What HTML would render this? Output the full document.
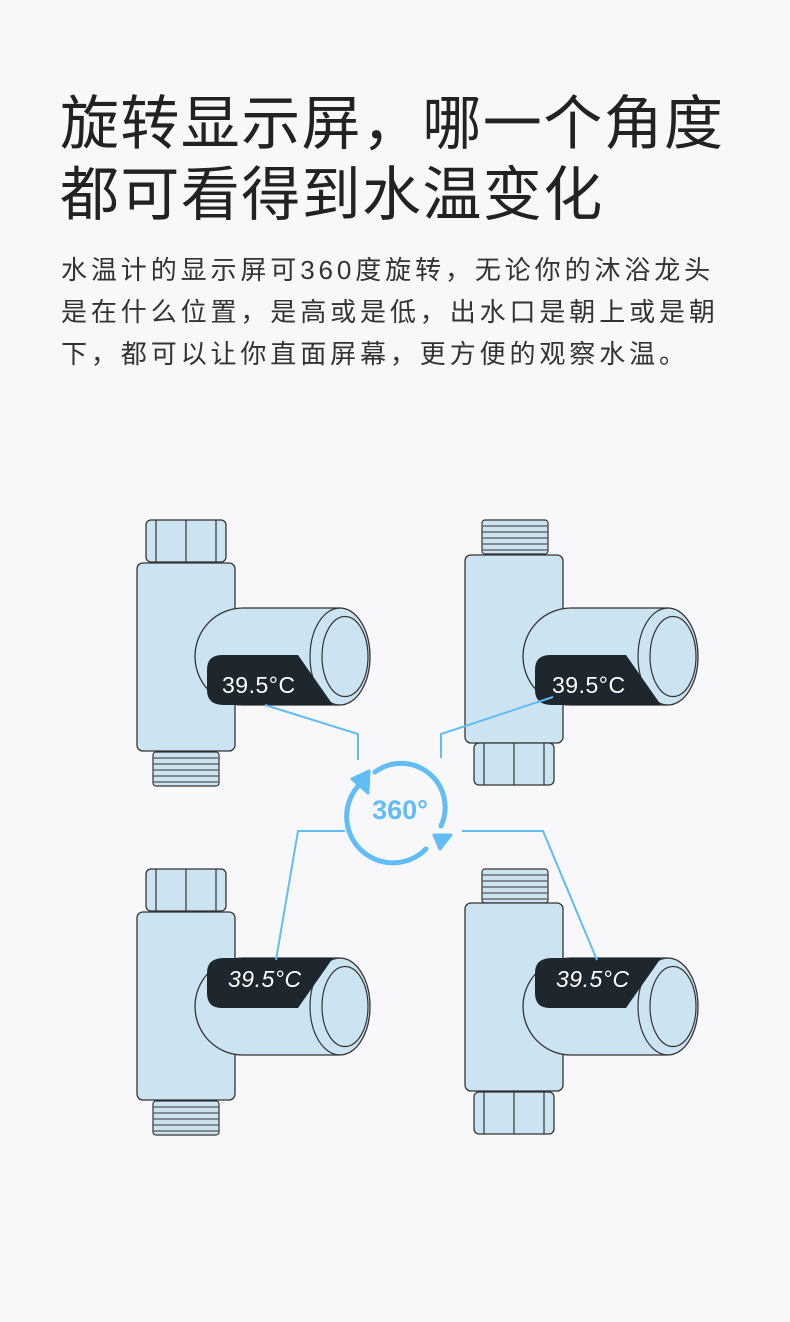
<!DOCTYPE html>
<html><head><meta charset="utf-8"><style>
html,body{margin:0;padding:0;background:#f8f8fa;}
body{width:790px;height:1322px;position:relative;overflow:hidden;font-family:"Liberation Sans","Noto Sans CJK SC",sans-serif;color:#222;}
.t{position:absolute;left:60px;font-size:59px;letter-spacing:1.4px;line-height:72px;white-space:nowrap;}
.p{position:absolute;left:61px;top:249px;font-size:26px;line-height:42px;letter-spacing:3.9px;color:#333;white-space:nowrap;}
svg{position:absolute;left:0;top:0;}
</style></head><body>
<div class="t" style="top:88px">旋转显示屏，哪一个角度</div>
<div class="t" style="top:159px">都可看得到水温变化</div>
<div class="p">水温计的显示屏可360度旋转，无论你的沐浴龙头<br>是在什么位置，是高或是低，出水口是朝上或是朝<br>下，都可以让你直面屏幕，更方便的观察水温。</div>
<svg width="790" height="1322" viewBox="0 0 790 1322">
<defs>
<g id="nut"><rect x="0" y="0" width="80" height="42" rx="5" fill="#cce3f1" stroke="#333" stroke-width="1.3"/><line x1="10" y1="0" x2="10" y2="42" stroke="#333" stroke-width="1.2"/><line x1="40" y1="0" x2="40" y2="42" stroke="#333" stroke-width="1.2"/><line x1="70" y1="0" x2="70" y2="42" stroke="#333" stroke-width="1.2"/></g>
<g id="thr"><rect x="0" y="0" width="66" height="34" rx="3" fill="#cce3f1" stroke="#333" stroke-width="1.2"/><path d="M0 6 H66 M0 12 H66 M0 18 H66 M0 24 H66 M0 30 H66" stroke="#555" stroke-width="1.2"/></g>
<g id="cyl"><path d="M48 0 H145 A30 48.5 0 0 1 145 97 H48 A48 48.5 0 0 1 48 0 Z" fill="#cce3f1" stroke="#333" stroke-width="1.3"/><path d="M145 0 A30 48.5 0 0 0 145 97" fill="none" stroke="#333" stroke-width="1.2"/><ellipse cx="150" cy="48.5" rx="23" ry="40" fill="#cce3f1" stroke="#333" stroke-width="1.2"/></g>
</defs>
<use href="#nut" x="146" y="520"/>
<rect x="137" y="563" width="98" height="188" rx="6" fill="#cce3f1" stroke="#333" stroke-width="1.3"/>
<use href="#thr" x="153" y="752"/>
<use href="#cyl" x="195" y="608"/>
<path d="M222 655 H298 L333 705 H224 Q207 705 207 690 V670 Q207 655 222 655 Z" fill="#1e272d"/>
<text x="222" y="693" font-size="23" fill="#fff" font-family="Liberation Sans" letter-spacing="0.5">39.5°C</text>
<use href="#thr" x="482" y="520"/>
<rect x="465" y="555" width="98" height="188" rx="6" fill="#cce3f1" stroke="#333" stroke-width="1.3"/>
<use href="#nut" x="474" y="743"/>
<use href="#cyl" x="523" y="608"/>
<path d="M550 655 H626 L661 705 H552 Q535 705 535 690 V670 Q535 655 550 655 Z" fill="#1e272d"/>
<text x="552" y="693" font-size="23" fill="#fff" font-family="Liberation Sans" letter-spacing="0.5">39.5°C</text>
<use href="#nut" x="146" y="869"/>
<rect x="137" y="912" width="98" height="188" rx="6" fill="#cce3f1" stroke="#333" stroke-width="1.3"/>
<use href="#thr" x="153" y="1101"/>
<use href="#cyl" x="195" y="958"/>
<path d="M224 958 H333 L298 1008 H222 Q207 1008 207 993 V973 Q207 958 224 958 Z" fill="#1e272d"/>
<text x="228" y="987" font-size="23" fill="#fff" font-style="italic" font-family="Liberation Sans" letter-spacing="0.5">39.5°C</text>
<use href="#thr" x="482" y="869"/>
<rect x="465" y="903" width="98" height="188" rx="6" fill="#cce3f1" stroke="#333" stroke-width="1.3"/>
<use href="#nut" x="474" y="1092"/>
<use href="#cyl" x="523" y="958"/>
<path d="M552 958 H661 L626 1008 H550 Q535 1008 535 993 V973 Q535 958 552 958 Z" fill="#1e272d"/>
<text x="556" y="987" font-size="23" fill="#fff" font-style="italic" font-family="Liberation Sans" letter-spacing="0.5">39.5°C</text>
<g fill="none" stroke="#62bcf6" stroke-width="2">
<polyline points="265,705 358,734 358,760"/>
<polyline points="553,697 441,734 441,758"/>
<polyline points="345,831 298,831 276,960"/>
<polyline points="462,831 543,831 597,960"/>
</g>
<g fill="none" stroke="#62bcf6" stroke-width="5" stroke-linecap="round">
<path d="M375 772 A44 44 0 0 1 441 826"/>
<path d="M426 849 A44 44 0 0 1 360 784"/>
</g>
<path d="M352 779 L369 771 L368 793 Z" fill="#62bcf6" stroke="#62bcf6" stroke-width="3" stroke-linejoin="round"/>
<path d="M434 835 L451 835 L440 849 Z" fill="#62bcf6" stroke="#62bcf6" stroke-width="3" stroke-linejoin="round"/>
<text x="400" y="819" font-size="27" font-weight="bold" fill="#62bcf6" text-anchor="middle" font-family="Liberation Sans">360°</text>
</svg>
</body></html>
